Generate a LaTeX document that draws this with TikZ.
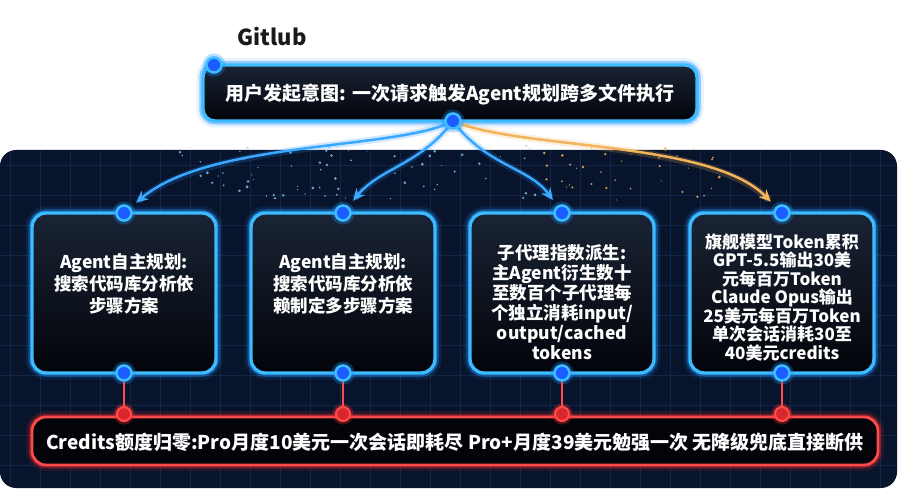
\documentclass[tikz,border=0pt]{standalone}
\usepackage{fontspec}
\setmainfont{Noto Sans CJK SC}
\usetikzlibrary{arrows.meta}
\definecolor{panelc}{HTML}{08142B}
\definecolor{gridc}{HTML}{1A3158}
\definecolor{glowb}{HTML}{1E90FF}
\definecolor{bordb}{HTML}{3DBBFF}
\definecolor{dotb}{HTML}{1A5CFF}
\definecolor{glowr}{HTML}{FF2A2A}
\definecolor{bordr}{HTML}{FF4A4A}
\definecolor{dotr}{HTML}{D8262E}
\definecolor{arrb}{HTML}{3AA8FF}
\definecolor{arro}{HTML}{F2B35A}
\definecolor{boxtop}{HTML}{1A2435}
\definecolor{boxbot}{HTML}{02040A}
\definecolor{titlec}{HTML}{1A1A1A}
\begin{document}
\begin{tikzpicture}[x=1pt,y=-1pt,
  glowbox/.style={rectangle, rounded corners=14pt, top color=boxtop, bottom color=boxbot,
    preaction={draw=glowb, line width=13pt, draw opacity=0.12},
    preaction={draw=glowb, line width=7.5pt, draw opacity=0.4},
    draw=bordb, line width=3.4pt, inner sep=0pt},
  redbox/.style={rectangle, rounded corners=14pt, fill=boxbot,
    preaction={draw=glowr, line width=12pt, draw opacity=0.12},
    preaction={draw=glowr, line width=6.5pt, draw opacity=0.35},
    draw=bordr, line width=2.8pt, inner sep=0pt},
  bdot/.style={circle, fill=dotb, draw=bordb, line width=2.6pt, minimum size=15pt, inner sep=0pt,
    preaction={draw=glowb, line width=8pt, draw opacity=0.3}},
  rdot/.style={circle, fill=dotr, draw=bordr, line width=2.2pt, minimum size=14pt, inner sep=0pt,
    preaction={draw=glowr, line width=7pt, draw opacity=0.3}},
  boxtext/.style={text=white, align=center, font=\bfseries\fontsize{17.5}{22}\selectfont, inner sep=0pt},
  arrowb/.style={draw=arrb, line width=2.5pt, -{Stealth[length=12pt,width=11pt]}, shorten >=7pt,
    preaction={draw=glowb, line width=7pt, draw opacity=0.2, -, shorten >=10pt}},
  arrowo/.style={draw=arro, line width=2.5pt, -{Stealth[length=12pt,width=11pt]}, shorten >=7pt,
    preaction={draw=arro, line width=7pt, draw opacity=0.2, -, shorten >=10pt}},
  redline/.style={draw=bordr, line width=2pt}
]
\useasboundingbox (0,0) rectangle (900,497);
\fill[white] (0,0) rectangle (900,497);
% dark panel with grid
\fill[panelc, rounded corners=16pt] (0,150) rectangle (897,488);
\begin{scope}
  \clip[rounded corners=16pt] (0,150) rectangle (897,488);
  \foreach \gx in {10,40,...,900}{\draw[gridc, line width=0.6pt, opacity=0.6] (\gx,150) -- (\gx,488);}
  \foreach \gy in {165,195,...,488}{\draw[gridc, line width=0.6pt, opacity=0.6] (0,\gy) -- (897,\gy);}
\end{scope}
% sparkles
\pgfmathsetseed{7}
\foreach \i in {1,...,110}{
  \pgfmathsetmacro{\sx}{180+rnd*540}
  \pgfmathsetmacro{\sy}{145+rnd*55}
  \pgfmathsetmacro{\sr}{0.5+rnd*1.1}
  \ifdim\sx pt>540pt
    \fill[arro, opacity=0.85] (\sx,\sy) circle[radius=\sr];
  \else
    \fill[arrb!55!white, opacity=0.75] (\sx,\sy) circle[radius=\sr];
  \fi
}
% title
\node[text=titlec, font=\bfseries\fontsize{22}{26}\selectfont] (title) at (272,37) {Gitlub};
% top box
\node[glowbox, rounded corners=12pt, minimum width=494pt, minimum height=56pt] (top) at (450,93) {};
\node[text=white, font=\bfseries\fontsize{19}{22}\selectfont] (toptext) at (450,95) {用户发起意图: 一次请求触发Agent规划跨多文件执行};
\node[bdot] (topl) at (214,65) {};
% four boxes
\foreach \n/\cx in {1/124,2/343,3/562,4/782}{
  \node[glowbox, minimum width=184pt, minimum height=160pt] (b\n) at (\cx,293) {};
}
\node[boxtext] (t1) at (124,284) {Agent自主规划:\\搜索代码库分析依\\步骤方案};
\node[boxtext] (t2) at (343,284) {Agent自主规划:\\搜索代码库分析依\\赖制定多步骤方案};
\node[boxtext, font=\bfseries\fontsize{17.5}{20}\selectfont] (t3) at (562,302) {子代理指数派生:\\主Agent衍生数十\\至数百个子代理每\\个独立消耗input/\\output/cached\\tokens};
\node[boxtext, font=\bfseries\fontsize{17}{18.5}\selectfont] (t4) at (782,297) {旗舰模型Token累积\\GPT-5.5输出30美\\元每百万Token\\Claude Opus输出\\25美元每百万Token\\单次会话消耗30至\\40美元credits};
% red box
\node[redbox, minimum width=846pt, minimum height=48pt] (cred) at (455,441) {};
\node[text=white, font=\bfseries\fontsize{19}{22}\selectfont] (credtext) at (455,442) {Credits额度归零:Pro月度10美元一次会话即耗尽 Pro+月度39美元勉强一次 无降级兜底直接断供};
% dots and connectors
\foreach \n/\cx in {1/124,2/343,3/562,4/782}{
  \node[bdot] (d\n t) at (\cx,213) {};
  \node[bdot] (d\n b) at (\cx,373) {};
  \node[rdot] (r\n) at (\cx,414) {};
  \draw[redline] (d\n b) -- (r\n);
}
% arrows
\coordinate (topd) at (453,121);
\draw[arrowb] (topd) .. controls (400,150) and (210,140) .. (d1t);
\draw[arrowb] (topd) .. controls (420,165) and (380,168) .. (d2t);
\draw[arrowb] (topd) .. controls (485,165) and (530,168) .. (d3t);
\draw[arrowo] (topd) .. controls (520,150) and (710,140) .. (d4t);
\node[bdot] (topdot) at (topd) {};
\end{tikzpicture}
\end{document}
